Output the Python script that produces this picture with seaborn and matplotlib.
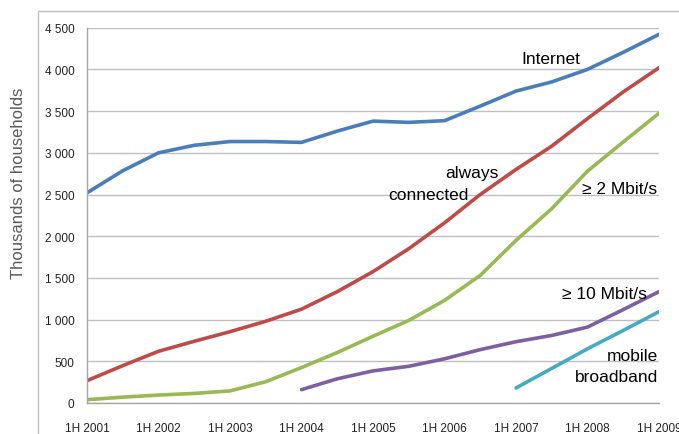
import matplotlib
matplotlib.use("Agg")
import matplotlib.pyplot as plt
import matplotlib.ticker as mticker
from matplotlib.patches import Rectangle
import seaborn as sns
import pandas as pd

# half-year periods (1H = x.0, 2H = x.5)
periods = [2001, 2001.5, 2002, 2002.5, 2003, 2003.5, 2004, 2004.5, 2005, 2005.5,
           2006, 2006.5, 2007, 2007.5, 2008, 2008.5, 2009]
internet = [2520, 2785, 3000, 3090, 3135, 3135, 3125, 3260, 3380, 3365,
            3385, 3560, 3740, 3850, 4000, 4205, 4420]
always_connected = [268, 448, 620, 740, 855, 980, 1125, 1335, 1575, 1850,
                    2160, 2500, 2800, 3080, 3410, 3730, 4020]
mbit2 = [40, 70, 95, 115, 145, 255, 425, 605, 800, 990,
         1230, 1530, 1950, 2330, 2780, 3130, 3475]
periods_10 = [2004, 2004.5, 2005, 2005.5, 2006, 2006.5, 2007, 2007.5, 2008, 2008.5, 2009]
mbit10 = [160, 290, 385, 440, 530, 640, 735, 810, 910, 1120, 1335]
periods_mob = [2007, 2007.5, 2008, 2008.5, 2009]
mobile = [180, 415, 650, 870, 1095]

tick_years = [2001, 2002, 2003, 2004, 2005, 2006, 2007, 2008, 2009]
tick_labels = ["1H 2001", "1H 2002", "1H 2003", "1H 2004", "1H 2005",
               "1H 2006", "1H 2007", "1H 2008", "1H 2009"]
y_ticks = [0, 500, 1000, 1500, 2000, 2500, 3000, 3500, 4000, 4500]

series_names = ["Internet", "always connected", "≥ 2 Mbit/s", "≥ 10 Mbit/s", "mobile broadband"]
colors = ["#4a7ebb", "#be4b48", "#98b954", "#7d60a0", "#46aac5"]

frames = [
    pd.DataFrame({"period": periods, "value": internet, "series": series_names[0]}),
    pd.DataFrame({"period": periods, "value": always_connected, "series": series_names[1]}),
    pd.DataFrame({"period": periods, "value": mbit2, "series": series_names[2]}),
    pd.DataFrame({"period": periods_10, "value": mbit10, "series": series_names[3]}),
    pd.DataFrame({"period": periods_mob, "value": mobile, "series": series_names[4]}),
]
df = pd.concat(frames, ignore_index=True)

sns.set_style("white")
plt.rcParams["font.family"] = ["Liberation Sans", "DejaVu Sans"]

fig = plt.figure(figsize=(6.79, 4.35), dpi=100)
ax = fig.add_axes([87 / 679, 1 - 404 / 435, (659 - 87) / 679, (404 - 28.7) / 435])

# outer chart frame
fig.patches.append(Rectangle((38 / 679, -0.1), 1.2, 1 - 12 / 435 + 0.1,
                             transform=fig.transFigure, fill=False,
                             edgecolor="#bfbfbf", linewidth=1.0, zorder=0))

sns.lineplot(data=df, x="period", y="value", hue="series",
             palette=dict(zip(series_names, colors)), linewidth=2.6,
             legend=False, ax=ax, sort=True)

ax.set_xlim(2001, 2009)
ax.set_ylim(0, 4500)
ax.set_xticks(tick_years)
ax.set_xticklabels(tick_labels)
ax.set_yticks(y_ticks)
ax.yaxis.set_major_formatter(mticker.FuncFormatter(
    lambda v, p: f"{int(v):,}".replace(",", " ")))
ax.grid(axis="y", color="#bfbfbf", linewidth=1.0)
ax.set_axisbelow(True)
for s in ["top", "right"]:
    ax.spines[s].set_visible(False)
for s in ["left", "bottom"]:
    ax.spines[s].set_color("#a6a6a6")
    ax.spines[s].set_linewidth(1.0)
ax.tick_params(axis="x", direction="out", length=4, color="#a6a6a6",
               pad=10, labelsize=8.5, labelcolor="#222222")
ax.tick_params(axis="y", length=0, pad=9, labelsize=8.5, labelcolor="#222222")
ax.set_xlabel("")
ax.set_ylabel("")
fig.text(18.5 / 679, 1 - 183 / 435, "Thousands of households", rotation=90,
         ha="center", va="center", fontsize=12, color="#595959")

txt = dict(fontsize=12.5, color="black")
ax.text(2007.08, 4128, "Internet", ha="left", va="center", **txt)
ax.text(2006.75, 2760, "always", ha="right", va="center", **txt)
ax.text(2006.34, 2496, "connected", ha="right", va="center", **txt)
ax.text(2008.98, 2568, "≥ 2 Mbit/s", ha="right", va="center", **txt)
ax.text(2008.83, 1308, "≥ 10 Mbit/s", ha="right", va="center", **txt)
ax.text(2008.99, 564, "mobile", ha="right", va="center", **txt)
ax.text(2008.99, 312, "broadband", ha="right", va="center", **txt)

fig.savefig("out.png", dpi=100)
